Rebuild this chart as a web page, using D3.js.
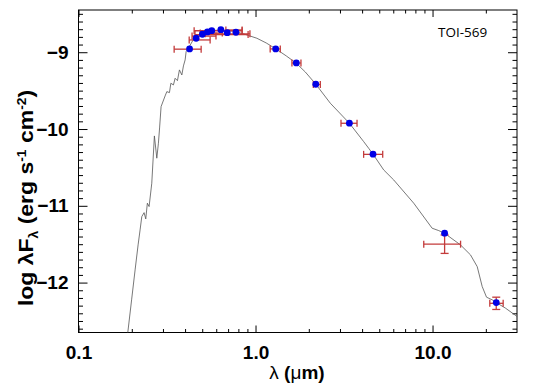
<!DOCTYPE html>
<html>
<head>
<meta charset="utf-8">
<script src="https://cdn.jsdelivr.net/npm/d3@7"></script>
<style>
  body { margin: 0; background: #fff; }
  svg { display: block; }
  .tickLabel { font-family: "Liberation Sans", Arial, sans-serif; font-weight: bold; font-size: 19px; fill: #000; }
</style>
</head>
<body>
<div id="chart"></div>
<script>
// photometry: band centre (um), model flux (blue), observed flux + error (red), band edges
var bandWave  = [0.424, 0.462, 0.501, 0.535, 0.566, 0.637, 0.692, 0.775, 1.30, 1.70, 2.19, 3.39, 4.61, 11.7, 22.9]
var modelFlux = [-8.957, -8.818, -8.766, -8.736, -8.719, -8.706, -8.745, -8.740, -8.957, -9.139, -9.417, -9.924, -10.328, -11.357, -12.26]
var obsFlux   = [-8.96, -8.84, -8.79, -8.75, -8.77, -8.72, -8.76, -8.71, -8.957, -9.14, -9.42, -9.925, -10.33, -11.50, -12.27]
var obsErr    = [0.01, 0.01, 0.01, 0.01, 0.01, 0.01, 0.01, 0.01, 0.01, 0.01, 0.01, 0.01, 0.01, 0.12, 0.08]
var bandLo    = [0.347, 0.422, 0.438, 0.487, 0.455, 0.45, 0.52, 0.68, 1.21, 1.606, 2.121, 3.04, 4.08, 8.92, 21.06]
var bandHi    = [0.493, 0.554, 0.598, 0.649, 0.908, 0.84, 0.93, 0.84, 1.38, 1.806, 2.323, 3.745, 5.23, 14.4, 25.06]

// model atmosphere spectrum
var sedWave = [0.1892, 0.1995, 0.2088, 0.2171, 0.2228, 0.2278, 0.2347, 0.2399, 0.2449, 0.2505, 0.2594, 0.2684, 0.2769, 0.2828,
  0.2871, 0.2928, 0.3085, 0.3155, 0.3264, 0.3324, 0.3438, 0.3515, 0.3622, 0.3717, 0.3835, 0.3916, 0.4003, 0.4055, 0.4217,
  0.4442, 0.4742, 0.5193, 0.5764, 0.648, 0.7382, 0.8194, 0.8942, 1.018, 1.149, 1.304, 1.492, 1.699, 1.91, 2.185, 2.645,
  3.388, 4.083, 4.356, 4.613, 5.297, 6.033, 7.829, 9.948, 10.84, 11.68, 14.38, 16.38, 17.88, 19.08, 20.18, 21.74, 22.89, 25.84, 30.09]
var sedFlux = [-12.68, -12.225, -11.835, -11.509, -11.314, -11.141, -11.089, -11.171, -10.966, -11.01, -10.706, -10.09, -10.38, -10.185,
  -9.986, -9.708, -9.569, -9.513, -9.526, -9.404, -9.426, -9.339, -9.37, -9.23, -9.296, -9.178, -9.1, -8.992, -8.931,
  -8.84, -8.775, -8.736, -8.716, -8.71, -8.723, -8.749, -8.775, -8.818, -8.879, -8.957, -9.048, -9.143, -9.257, -9.413, -9.664,
  -9.924, -10.164, -10.25, -10.328, -10.533, -10.663, -10.966, -11.292, -11.323, -11.357, -11.509, -11.639, -11.792, -12.052, -12.19, -12.225, -12.26, -12.333, -12.443]

var xMajor = [0.1, 1, 10]
var xMinor = [0.2, 0.3, 0.4, 0.5, 0.6, 0.7, 0.8, 0.9, 2, 3, 4, 5, 6, 7, 8, 9, 20]
var yMajor = [-9, -10, -11, -12]
var starName = "TOI-569"

var W = 538, H = 391
var margin = {top: 10, right: 21, bottom: 58.5, left: 78.5}

var svg = d3.select("#chart").append("svg").attr("width", W).attr("height", H)

var x = d3.scaleLog().domain([0.1, 30]).range([margin.left, W - margin.right])
var y = d3.scaleLinear().domain([-12.65, -8.45]).range([H - margin.bottom, margin.top])
var yMinor = d3.range(-126, -84).map(function(d){ return d / 10 }).filter(function(d){ return Math.round(d * 10) % 10 != 0 })

svg.append("defs").append("clipPath").attr("id", "plotClip")
  .append("rect").attr("x", x.range()[0]).attr("y", y.range()[1])
  .attr("width", x.range()[1] - x.range()[0]).attr("height", y.range()[0] - y.range()[1])

// axes, ticks pointing inward on all four sides
function addAxis(axis, tr){
  var g = svg.append("g").attr("transform", tr).call(axis)
  g.select(".domain").remove()
  g.selectAll(".tick line").attr("stroke", "#000")
  return g
}
var bottom = H - margin.bottom, right = W - margin.right
var gx = addAxis(d3.axisBottom(x).tickValues(xMajor).tickSize(-7).tickPadding(13).tickFormat(d3.format(".1f")), "translate(0," + bottom + ")")
gx.selectAll("text").attr("class", "tickLabel")
addAxis(d3.axisBottom(x).tickValues(xMinor).tickSize(-3.5).tickFormat(""), "translate(0," + bottom + ")")
addAxis(d3.axisTop(x).tickValues(xMajor).tickSize(-7).tickFormat(""), "translate(0," + margin.top + ")")
addAxis(d3.axisTop(x).tickValues(xMinor).tickSize(-3.5).tickFormat(""), "translate(0," + margin.top + ")")

var gy = addAxis(d3.axisLeft(y).tickValues(yMajor).tickSize(-9).tickPadding(10).tickFormat(d3.format("d")), "translate(" + margin.left + ",0)")
gy.selectAll("text").attr("class", "tickLabel")
addAxis(d3.axisLeft(y).tickValues(yMinor).tickSize(-4.5).tickFormat(""), "translate(" + margin.left + ",0)")
addAxis(d3.axisRight(y).tickValues(yMajor).tickSize(-9).tickFormat(""), "translate(" + right + ",0)")
addAxis(d3.axisRight(y).tickValues(yMinor).tickSize(-4.5).tickFormat(""), "translate(" + right + ",0)")

svg.append("rect")
  .attr("x", margin.left).attr("y", margin.top)
  .attr("width", right - margin.left).attr("height", bottom - margin.top)
  .style("fill", "none").style("stroke", "#000").style("stroke-width", "1px")

// model spectrum
var sed = sedWave.map(function(d, i){ return {w: d, f: sedFlux[i]} })
var line = d3.line().x(function(d){ return x(d.w) }).y(function(d){ return y(d.f) })
svg.append("path").datum(sed)
  .attr("clip-path", "url(#plotClip)")
  .attr("d", line)
  .style("fill", "none").style("stroke", "#555").style("stroke-width", "0.8px")

// observed fluxes: red error bars
var phot = bandWave.map(function(d, i){
  return {w: d, model: modelFlux[i], obs: obsFlux[i], err: obsErr[i], lo: bandLo[i], hi: bandHi[i]}
})
var red = "#c33b3b"
var bars = svg.append("g").attr("class", "errBars").style("stroke", red).style("stroke-width", "1.3px")
phot.forEach(function(d){
  var g = bars.append("g")
  var cy = y(d.obs)
  g.append("line").attr("x1", x(d.lo)).attr("x2", x(d.hi)).attr("y1", cy).attr("y2", cy)
  g.append("line").attr("x1", x(d.lo)).attr("x2", x(d.lo)).attr("y1", cy - 3.5).attr("y2", cy + 3.5)
  g.append("line").attr("x1", x(d.hi)).attr("x2", x(d.hi)).attr("y1", cy - 3.5).attr("y2", cy + 3.5)
  if(d.err > 0.03){
    var cx = x(d.w)
    g.append("line").attr("x1", cx).attr("x2", cx).attr("y1", y(d.obs + d.err)).attr("y2", y(d.obs - d.err))
    g.append("line").attr("x1", cx - 4).attr("x2", cx + 4).attr("y1", y(d.obs - d.err)).attr("y2", y(d.obs - d.err))
    g.append("line").attr("x1", cx - 4).attr("x2", cx + 4).attr("y1", y(d.obs + d.err)).attr("y2", y(d.obs + d.err))
  }
})

// synthetic model fluxes: blue dots
svg.append("g").selectAll(".dot").data(phot).enter().append("circle")
  .attr("class", "dot")
  .attr("cx", function(d){ return x(d.w) })
  .attr("cy", function(d){ return y(d.model) })
  .attr("r", 3.4)
  .style("fill", "#0000e6")

// labels
svg.append("text").attr("x", 438).attr("y", 37)
  .style("font-family", "'Open Sans', 'Liberation Sans', sans-serif").style("font-size", "13.5px")
  .text(starName)

var xl = svg.append("text").attr("x", 297).attr("y", 379).attr("text-anchor", "middle")
  .style("font-family", "'Liberation Sans', Arial, sans-serif").style("font-size", "19px").style("font-weight", "bold")
xl.append("tspan").style("font-weight", "normal").text("λ")
xl.append("tspan").text(" (")
xl.append("tspan").style("font-weight", "normal").text("μ")
xl.append("tspan").text("m)")

// the y title is drawn stretched along its length, as in the original
var yl = svg.append("text").attr("transform", "translate(33,198) rotate(-90) scale(1.15,1)").attr("text-anchor", "middle")
  .style("font-family", "'Liberation Sans', Arial, sans-serif").style("font-size", "20px").style("font-weight", "bold")
yl.append("tspan").text("log λF")
yl.append("tspan").attr("dy", 5).style("font-size", "12px").text("λ")
yl.append("tspan").attr("dy", -5).text(" (erg s")
yl.append("tspan").attr("dy", -7).style("font-size", "12px").text("-1")
yl.append("tspan").attr("dy", 7).text(" cm")
yl.append("tspan").attr("dy", -7).style("font-size", "12px").text("-2")
yl.append("tspan").attr("dy", 7).text(")")
</script>
</body>
</html>
